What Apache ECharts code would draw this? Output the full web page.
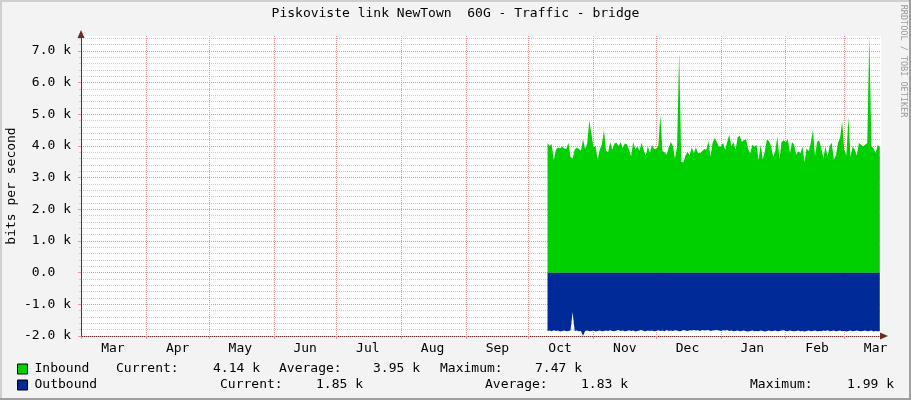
<!DOCTYPE html>
<html><head><meta charset="utf-8">
<script src="https://cdn.jsdelivr.net/npm/echarts@6/dist/echarts.min.js"></script>
<style>html,body{margin:0;padding:0;background:#F3F3F3}#c{width:911px;height:400px}</style>
</head><body><div id="c"></div>
<script>
// ---------- data ----------
const chartTitle = 'Piskoviste link NewTown  60G - Traffic - bridge';
const yAxisName = 'bits per second';
const watermark = 'RRDTOOL / TOBI OETIKER';
const seriesNames = ['Inbound', 'Outbound'];
const seriesColors = ['#00CF00', '#002A97'];
const monthNames = ['Jan','Feb','Mar','Apr','May','Jun','Jul','Aug','Sep','Oct','Nov','Dec'];
const axisStart = '2024-02-29T18:00:00Z';
const axisEnd = '2025-03-18T14:00:00Z';
const monthTicks = ['2024-03-01','2024-04-01','2024-05-01','2024-06-01','2024-07-01','2024-08-01',
  '2024-09-01','2024-10-01','2024-11-01','2024-12-01','2025-01-01','2025-02-01','2025-03-01'];
const monthLabelDates = ['2024-03-16','2024-04-16','2024-05-16','2024-06-16','2024-07-16','2024-08-16',
  '2024-09-16','2024-10-16','2024-11-16','2024-12-16','2025-01-16','2025-02-16','2025-03-16'];
const yMin = -2000, yMax = 7470;
const majorTicks = [-2000, -1000, 0, 1000, 2000, 3000, 4000, 5000, 6000, 7000];
const minorStep = 200;
const firstSampleDay = '2024-10-10';   // one sample per day from here
// bits per second, daily
const inbound = [
  4090,4000,4050,3550,3880,3950,3920,3980,3920,3900,
  4100,3650,3600,3880,3950,3900,3850,4200,3900,4080,
  4800,4380,3960,4000,3570,3880,4050,4500,3850,3800,
  4120,3880,4080,4100,4000,4120,3930,4080,4050,3880,
  3680,4120,3900,3980,3850,4100,3880,3700,3980,3780,
  4040,3900,3900,4000,4980,3830,3800,3720,3950,4120,
  4000,3600,3980,6950,3500,3480,3700,3820,3700,3960,
  3770,3960,3770,3780,3830,3900,3880,4150,3660,4100,
  4250,4120,3980,3980,4100,3880,4120,4350,3980,4120,
  3880,4270,4320,4120,4180,4200,3900,3770,4040,3980,
  4040,3550,4040,3580,3830,4200,4150,3980,3660,3850,
  4300,3580,4120,4180,4120,4220,3770,4120,4040,3720,
  3830,3770,3980,3490,3930,3830,4100,4500,3680,4120,
  4180,3930,3620,3980,3660,4000,4100,3560,3700,4090,
  4250,4770,3880,3700,4900,3650,3980,3880,3700,4090,
  4040,3980,4040,4090,7470,3980,3930,3770,4040,3950
];
const outbound = [
  1840,1830,1850,1820,1840,1830,1860,1840,1830,1850,
  1840,1830,1250,1840,1830,1850,1840,1990,1840,1830,
  1850,1840,1830,1860,1840,1830,1850,1840,1830,1840,
  1820,1840,1850,1830,1810,1840,1830,1850,1840,1820,
  1840,1830,1860,1840,1830,1810,1840,1850,1830,1840,
  1830,1850,1840,1820,1840,1830,1850,1810,1840,1830,
  1840,1820,1830,1850,1840,1810,1830,1840,1820,1830,
  1810,1830,1820,1840,1810,1830,1820,1810,1840,1830,
  1820,1810,1830,1840,1820,1830,1810,1840,1830,1850,
  1840,1830,1850,1840,1830,1850,1860,1840,1830,1850,
  1840,1850,1830,1840,1860,1840,1830,1850,1840,1830,
  1850,1840,1830,1820,1840,1850,1830,1840,1850,1840,
  1830,1850,1840,1860,1840,1830,1850,1840,1830,1850,
  1840,1850,1830,1840,1820,1850,1840,1830,1850,1840,
  1830,1850,1840,1860,1840,1830,1850,1840,1830,1840,
  1850,1840,1830,1850,1840,1830,1860,1840,1850,1850
];
const statLabels = ['Current:', 'Average:', 'Maximum:'];
const inboundStats = ['4.14 k', '3.95 k', '7.47 k'];
const outboundStats = ['1.85 k', '1.83 k', '1.99 k'];

// ---------- build ----------
const DAY = 86400000;
const t0 = Date.parse(firstSampleDay + 'T00:00:00Z');
const toTs = s => Date.parse(s.length === 10 ? s + 'T00:00:00Z' : s);
const minorTicks = [];
for (let v = yMin; v < yMax; v += minorStep) if (v % 1000 !== 0) minorTicks.push(v);

const FONT = 'DejaVu Sans Mono';
const axisColor = '#6b2b2b';
const mgrid = '#EB9595';
const grid = '#CCCCCC';

const statText = (txt, x, y) => ({
  type: 'text', x: x, y: y,
  style: { text: txt, font: '13px "DejaVu Sans Mono"', fill: '#000', verticalAlign: 'middle', align: 'left' }
});
const row1 = 369, row2 = 385;

const option = {
  animation: false,
  backgroundColor: '#F3F3F3',
  title: {
    text: chartTitle, left: 'center', top: 2,
    textStyle: { fontFamily: FONT, fontSize: 13, fontWeight: 'normal', color: '#000' }
  },
  legend: {
    orient: 'vertical', left: 17, top: 361, padding: 0, itemGap: 0,
    itemWidth: 10, itemHeight: 10, icon: 'rect', selectedMode: false,
    itemStyle: { borderColor: '#000', borderWidth: 1 },
    textStyle: { fontFamily: FONT, fontSize: 13, color: '#000', lineHeight: 16, padding: [0, 0, 0, 2] },
    data: seriesNames
  },
  grid: { left: 81, top: 36, right: 30, bottom: 64, show: true, backgroundColor: '#FFFFFF', borderWidth: 0,
    containLabel: false, outerBoundsMode: 'none' },
  xAxis: {
    type: 'value', min: toTs(axisStart), max: toTs(axisEnd),
    axisLine: { show: true, onZero: false, lineStyle: { color: axisColor, width: 1 },
      symbol: ['none', 'triangle'], symbolSize: [7, 8], symbolOffset: [0, 3] },
    axisTick: { show: true, length: 3, inside: false, customValues: monthTicks.map(toTs), lineStyle: { color: mgrid } },
    splitLine: { show: true, customValues: monthTicks.map(toTs), lineStyle: { color: mgrid, type: [1, 1], width: 1 } },
    axisLabel: {
      customValues: monthLabelDates.map(toTs), margin: 6,
      fontFamily: FONT, fontSize: 13, color: '#000',
      formatter: v => monthNames[new Date(v).getUTCMonth()]
    }
  },
  yAxis: [{
    type: 'value', min: yMin, max: yMax, position: 'left', z: 1,
    name: yAxisName, nameLocation: 'middle', nameRotate: 90, nameGap: 63, nameMoveOverlap: false,
    nameTextStyle: { fontFamily: FONT, fontSize: 13, color: '#000' },
    axisLine: { show: true, onZero: false, lineStyle: { color: axisColor, width: 1 },
      symbol: ['none', 'triangle'], symbolSize: [7, 8], symbolOffset: [0, 2] },
    axisTick: { show: true, length: 3, customValues: majorTicks, lineStyle: { color: mgrid } },
    splitLine: { show: true, customValues: majorTicks, lineStyle: { color: mgrid, type: [1, 1], width: 1 } },
    axisLabel: {
      customValues: majorTicks, margin: 10,
      fontFamily: FONT, fontSize: 13, color: '#000',
      formatter: v => v === 0 ? '0.0  ' : (v / 1000).toFixed(1) + ' k'
    }
  }, {
    type: 'value', min: yMin, max: yMax, position: 'left', z: 0,
    axisLine: { show: false },
    axisTick: { show: true, length: 2, customValues: minorTicks, lineStyle: { color: grid } },
    splitLine: { show: true, customValues: minorTicks, lineStyle: { color: grid, type: [1, 1], width: 1 } },
    axisLabel: { show: false, customValues: minorTicks }
  }],
  series: [{
    name: seriesNames[0], type: 'line', yAxisIndex: 0,
    showSymbol: false, symbol: 'none', silent: true,
    data: inbound.map((v, i) => [t0 + i * DAY, v]),
    lineStyle: { width: 0 }, itemStyle: { color: seriesColors[0] },
    areaStyle: { color: seriesColors[0], opacity: 1 }
  }, {
    name: seriesNames[1], type: 'line', yAxisIndex: 0,
    showSymbol: false, symbol: 'none', silent: true,
    data: outbound.map((v, i) => [t0 + i * DAY, -v]),
    lineStyle: { width: 0 }, itemStyle: { color: seriesColors[1] },
    areaStyle: { color: seriesColors[1], opacity: 1 }
  }],
  graphic: [
    { type: 'rect', shape: { x: 0, y: 0, width: 911, height: 2 }, style: { fill: '#CFCFCF' }, silent: true },
    { type: 'rect', shape: { x: 0, y: 0, width: 2, height: 400 }, style: { fill: '#CFCFCF' }, silent: true },
    { type: 'rect', shape: { x: 0, y: 398, width: 911, height: 2 }, style: { fill: '#9E9E9E' }, silent: true },
    { type: 'rect', shape: { x: 909, y: 0, width: 2, height: 400 }, style: { fill: '#9E9E9E' }, silent: true },
    { type: 'text', x: 903, y: 61, rotation: -Math.PI / 2,
      style: { text: watermark, font: '8.5px "DejaVu Sans Mono"', fill: '#9A9A9A', align: 'center', verticalAlign: 'middle' } },
    statText(statLabels[0], 116, row1), statText(inboundStats[0], 213, row1),
    statText(statLabels[1], 279, row1), statText(inboundStats[1], 373, row1),
    statText(statLabels[2], 440, row1), statText(inboundStats[2], 535, row1),
    statText(statLabels[0], 220, row2), statText(outboundStats[0], 316, row2),
    statText(statLabels[1], 485, row2), statText(outboundStats[1], 581, row2),
    statText(statLabels[2], 750, row2), statText(outboundStats[2], 847, row2)
  ]
};
const chart = echarts.init(document.getElementById('c'), null, { renderer: 'canvas' });
chart.setOption(option);
</script></body></html>
